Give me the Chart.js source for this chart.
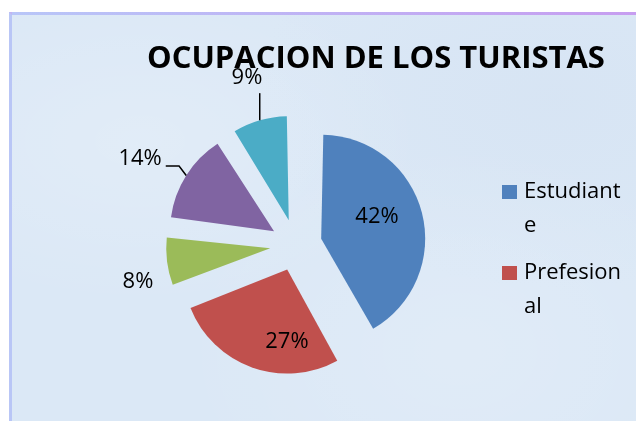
<!DOCTYPE html>
<html>
<head>
<meta charset="utf-8">
<script src="https://cdn.jsdelivr.net/npm/chart.js@4/dist/chart.umd.min.js"></script>
<style>
  html, body { margin: 0; padding: 0; background: #fff; }
  #wrap { position: relative; width: 636px; height: 421px; overflow: hidden; }
  #frame {
    position: absolute; left: 9px; top: 12px; width: 640px; height: 420px;
    border-left: 3px solid #b9c6f6; border-top: 3px solid #c3b4f2;
    background-color: #dbe8f6;
    background-image:
      radial-gradient(ellipse at 20% 30%, rgba(255,255,255,0.18), rgba(255,255,255,0) 40%),
      radial-gradient(ellipse at 70% 80%, rgba(255,255,255,0.15), rgba(255,255,255,0) 45%),
      radial-gradient(ellipse at 85% 20%, rgba(200,215,235,0.2), rgba(200,215,235,0) 40%);
  }
  #frame::before {
    content: ''; position: absolute; left: 0; top: -3px; right: 0; height: 3px;
    background: linear-gradient(to right, #b8c6f8, #c79cf0);
  }
  canvas { position: absolute; left: 0; top: 0; }
</style>
</head>
<body>
<div id="wrap">
  <div id="frame"></div>
  <canvas id="myChart" width="636" height="421"></canvas>
</div>
<script>
(() => {
  'use strict'

  const titleText = 'OCUPACION DE LOS TURISTAS'
  const categories = ['Estudiante', 'Prefesional', 'Empleado', 'Comerciante', 'Otros']
  const values = [42, 27, 8, 14, 9]
  const colors = ['#4f81bd', '#c0504d', '#9bbb59', '#8064a2', '#4bacc6']
  const legendShown = 2 // the original legend only shows the first two entries

  const FONT = "'Open Sans', 'DejaVu Sans', sans-serif"
  const PIE_R = 104
  const EXPLODE = 104 // chart.js moves an arc by offset / 4 -> 26px

  // per slice label placement: radius factor from slice tip, angle tweak (deg), leader line
  const labelPlace = [
    { k: 0.575, da: -6.7, leader: false },
    { k: 0.697, da: -19.6, leader: false },
    { k: 1.312, da: -7.1, leader: false },
    { k: 1.463, da: -4.1, leader: true },
    { k: 1.423, da: -0.2, leader: true }
  ]

  // chart.js grows an exploded arc by offset/4 * (1 - sin(circumference));
  // take that back off so every slice keeps the same radius, like the original
  const evenRadius = {
    id: 'evenRadius',
    afterDatasetUpdate(chart) {
      chart.getDatasetMeta(0).data.forEach(arc => {
        const off = (arc.options.offset || 0) / 4
        const circ = arc.endAngle - arc.startAngle
        const fix = 1 - Math.sin(Math.min(Math.PI, circ))
        arc.outerRadius = PIE_R - off * fix
      })
    }
  }

  const pctLabels = {
    id: 'pctLabels',
    afterDatasetsDraw(chart) {
      const ctx = chart.ctx
      const meta = chart.getDatasetMeta(0)
      const total = values.reduce((a, b) => a + b, 0)
      ctx.save()
      ctx.font = '22px ' + FONT
      ctx.fillStyle = '#000'
      ctx.strokeStyle = '#000'
      ctx.lineWidth = 1.5
      ctx.textAlign = 'center'
      ctx.textBaseline = 'middle'
      meta.data.forEach((arc, i) => {
        const p = arc.getProps(['x', 'y', 'startAngle', 'endAngle'], true)
        const off = (arc.options.offset || 0) / 4
        const mid = (p.startAngle + p.endAngle) / 2
        const ax = p.x + Math.cos(mid) * off
        const ay = p.y + Math.sin(mid) * off
        const R = PIE_R
        const pl = labelPlace[i]
        const a = mid + pl.da * Math.PI / 180
        const lx = ax + Math.cos(a) * pl.k * R
        const ly = ay + Math.sin(a) * pl.k * R
        const txt = Math.round(values[i] / total * 100) + '%'
        ctx.fillText(txt, lx, ly)
        if (pl.leader) {
          const ex = ax + Math.cos(mid) * R
          const ey = ay + Math.sin(mid) * R
          const w = ctx.measureText(txt).width
          ctx.beginPath()
          if (Math.abs(lx - ex) < 25) {
            ctx.moveTo(ex, ey)
            ctx.lineTo(ex, ly + 15)
          } else {
            const bx = ax + Math.cos(mid + 0.035) * R * 1.107
            const by = ay + Math.sin(mid + 0.035) * R * 1.107
            ctx.moveTo(ex, ey)
            ctx.lineTo(bx, by)
            ctx.lineTo(lx + w / 2 + 4, by)
          }
          ctx.stroke()
        }
      })
      ctx.restore()
    }
  }

  function wrapText(ctx, text, maxW) {
    const lines = []
    let cur = ''
    for (const ch of text) {
      if (cur && ctx.measureText(cur + ch).width > maxW) {
        lines.push(cur)
        cur = ch
      } else {
        cur += ch
      }
    }
    if (cur) lines.push(cur)
    return lines
  }

  // legend as a layout box on the right, so it takes its space from the chart area
  const sideLegend = {
    id: 'sideLegend',
    beforeInit(chart) {
      const box = {
        position: 'right',
        weight: 1000,
        fullSize: false,
        options: {},
        left: 0, top: 0, right: 0, bottom: 0, width: 0, height: 0,
        isHorizontal() { return false },
        update(maxWidth, maxHeight) {
          this.width = 191
          this.height = maxHeight
        },
        draw() {
          const ctx = chart.ctx
          const x0 = this.left + 57
          let y = 185
          ctx.save()
          ctx.font = '22px ' + FONT
          ctx.textAlign = 'left'
          ctx.textBaseline = 'alphabetic'
          for (let i = 0; i < legendShown; i++) {
            ctx.fillStyle = colors[i]
            ctx.fillRect(x0, y, 15, 14)
            ctx.fillStyle = '#000'
            const lines = wrapText(ctx, categories[i], 106)
            lines.forEach((ln, j) => ctx.fillText(ln, x0 + 22, y + 13 + j * 34))
            y += 81
          }
          ctx.restore()
        }
      }
      Chart.layouts.addBox(chart, box)
    }
  }

  const ctx = document.getElementById('myChart')
  // eslint-disable-next-line no-unused-vars
  const myChart = new Chart(ctx, {
    type: 'pie',
    data: {
      labels: categories,
      datasets: [{
        data: values,
        backgroundColor: colors,
        borderWidth: 0,
        offset: EXPLODE,
        radius: PIE_R,
        clip: false
      }]
    },
    options: {
      responsive: false,
      animation: false,
      layout: {
        padding: { left: 147, right: 0, top: 41, bottom: 9 }
      },
      plugins: {
        legend: { display: false },
        tooltip: { enabled: false },
        title: {
          display: true,
          text: titleText,
          align: 'start',
          color: '#000',
          font: { family: FONT, size: 31, weight: 'bold', lineHeight: 1.2 },
          padding: { top: 0, bottom: 0 }
        }
      }
    },
    plugins: [evenRadius, pctLabels, sideLegend]
  })
})()
</script>
</body>
</html>
